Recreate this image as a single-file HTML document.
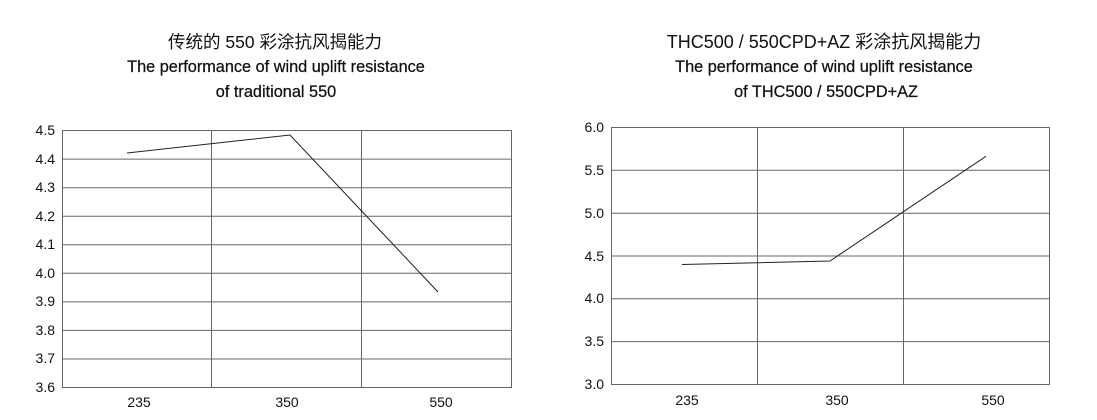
<!DOCTYPE html>
<html><head><meta charset="utf-8"><style>
html,body{margin:0;padding:0;background:#fff;}
svg{display:block;}
text{font-family:"Liberation Sans","Noto Sans CJK SC",sans-serif;fill:#111;}
</style></head><body>
<svg width="1097" height="420" xmlns="http://www.w3.org/2000/svg">
<g text-anchor="middle">
<text x="275" y="48" font-size="17.5">传统的 550 彩涂抗风揭能力</text>
<text x="276" y="72" font-size="16.3" stroke="#111" stroke-width="0.25">The performance of wind uplift resistance</text>
<text x="276" y="97" font-size="16.3" stroke="#111" stroke-width="0.25">of traditional 550</text>
<text x="824" y="48" font-size="18">THC500 / 550CPD+AZ 彩涂抗风揭能力</text>
<text x="824" y="72" font-size="16.3" stroke="#111" stroke-width="0.25">The performance of wind uplift resistance</text>
<text x="826" y="97" font-size="16.3" stroke="#111" stroke-width="0.25">of THC500 / 550CPD+AZ</text>
</g>
<g stroke="#666" stroke-width="1" fill="none">
<rect x="62.5" y="130.5" width="449" height="257"/>
<line x1="211.5" y1="130" x2="211.5" y2="388"/>
<line x1="361.5" y1="130" x2="361.5" y2="388"/>
<line x1="62" y1="159.1" x2="511" y2="159.1"/>
<line x1="62" y1="187.7" x2="511" y2="187.7"/>
<line x1="62" y1="216.2" x2="511" y2="216.2"/>
<line x1="62" y1="244.8" x2="511" y2="244.8"/>
<line x1="62" y1="273.3" x2="511" y2="273.3"/>
<line x1="62" y1="301.9" x2="511" y2="301.9"/>
<line x1="62" y1="330.4" x2="511" y2="330.4"/>
<line x1="62" y1="359" x2="511" y2="359"/>
<rect x="611.5" y="127.5" width="438" height="257"/>
<line x1="757.5" y1="127" x2="757.5" y2="385"/>
<line x1="903.5" y1="127" x2="903.5" y2="385"/>
<line x1="611" y1="170.3" x2="1049" y2="170.3"/>
<line x1="611" y1="213.2" x2="1049" y2="213.2"/>
<line x1="611" y1="256" x2="1049" y2="256"/>
<line x1="611" y1="298.8" x2="1049" y2="298.8"/>
<line x1="611" y1="341.6" x2="1049" y2="341.6"/>
</g>
<polyline points="127,153 290,135 438,292" fill="none" stroke="#222" stroke-width="1"/>
<polyline points="682,264.5 830,261 986,156.3" fill="none" stroke="#222" stroke-width="1"/>
<g font-size="14" text-anchor="end">
<text x="55" y="135">4.5</text><text x="55" y="164">4.4</text><text x="55" y="192">4.3</text>
<text x="55" y="221">4.2</text><text x="55" y="249">4.1</text><text x="55" y="278">4.0</text>
<text x="55" y="306">3.9</text><text x="55" y="335">3.8</text><text x="55" y="363">3.7</text>
<text x="55" y="392">3.6</text>
<text x="604" y="132">6.0</text><text x="604" y="175">5.5</text><text x="604" y="218">5.0</text>
<text x="604" y="261">4.5</text><text x="604" y="303">4.0</text><text x="604" y="346">3.5</text>
<text x="604" y="389">3.0</text>
</g>
<g font-size="14" text-anchor="middle">
<text x="139" y="407">235</text><text x="287" y="407">350</text><text x="441" y="407">550</text>
<text x="687" y="405">235</text><text x="837" y="405">350</text><text x="993" y="405">550</text>
</g>
</svg>
</body></html>
